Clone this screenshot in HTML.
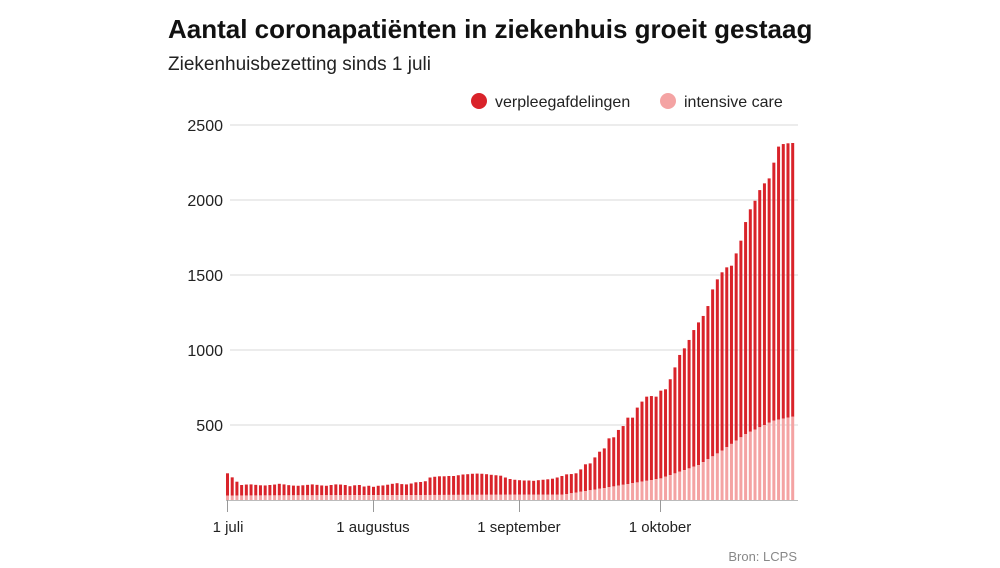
<!DOCTYPE html>
<html><head><meta charset="utf-8"><style>
html,body{margin:0;padding:0;background:#fff;}
body{width:1000px;height:563px;overflow:hidden;font-family:"Liberation Sans",sans-serif;}
</style></head><body>
<svg id="s" width="1000" height="563" xmlns="http://www.w3.org/2000/svg" font-family="Liberation Sans, sans-serif">
<text x="168" y="38" font-size="26" font-weight="bold" fill="#111">Aantal coronapatiënten in ziekenhuis groeit gestaag</text>
<text x="168" y="70" font-size="19" fill="#222">Ziekenhuisbezetting sinds 1 juli</text>
<circle cx="479" cy="101" r="8" fill="#d9232a"/>
<text x="495" y="107" font-size="16" fill="#222">verpleegafdelingen</text>
<circle cx="668" cy="101" r="8" fill="#f4a3a3"/>
<text x="684" y="107" font-size="16" fill="#222">intensive care</text>
<g id="grid" stroke="#e6e6e6" stroke-width="1.5"></g>
<g font-size="16" fill="#222" text-anchor="end">
<text x="223" y="131">2500</text><text x="223" y="206">2000</text><text x="223" y="281">1500</text><text x="223" y="356">1000</text><text x="223" y="431">500</text>
</g>
<g id="bars"></g>
<line x1="226" y1="500.5" x2="798" y2="500.5" stroke="#bbb" stroke-width="1"/>
<g stroke="#999" stroke-width="1">
<line x1="227.5" y1="500" x2="227.5" y2="512"/><line x1="373.5" y1="500" x2="373.5" y2="512"/><line x1="519.5" y1="500" x2="519.5" y2="512"/><line x1="660.5" y1="500" x2="660.5" y2="512"/>
</g>
<g font-size="15" fill="#222" text-anchor="middle">
<text x="228" y="532">1 juli</text><text x="373" y="532">1 augustus</text><text x="519" y="532">1 september</text><text x="660" y="532">1 oktober</text>
</g>
<text x="797" y="561" font-size="13" fill="#888" text-anchor="end">Bron: LCPS</text>
</svg>
<script>
var g=document.getElementById('grid'),b=document.getElementById('bars'),ns='http://www.w3.org/2000/svg';
[500,1000,1500,2000,2500].forEach(function(v){var y=500-v*0.15;var l=document.createElementNS(ns,'line');l.setAttribute('x1',230);l.setAttribute('x2',798);l.setAttribute('y1',y);l.setAttribute('y2',y);g.appendChild(l);});
var t=[178,151,122,100,103,104,101,98,97,100,103,108,104,99,96,95,98,101,104,101,97,95,100,104,103,100,92,98,100,90,95,88,95,97,102,108,112,106,104,110,118,120,125,150,155,158,158,160,160,165,170,172,175,176,175,172,168,165,162,150,140,135,132,130,130,128,132,135,138,142,150,
160,171,173,178,204,238,244,284,322,344,411,418,467,493,549,549,616,656,689,693,689,729,738,805,884,967,1011,1067,1133,1184,1227,1293,1404,1471,1518,1551,1562,1644,1729,1853,1938,1995,2066,2111,2144,2249,2356,2373,2378,2380];
var P=[[0,30],[60,35],[71,35],[80,80],[92,144],[100,233],[105,330],[110,440],[116,530],[120,555]];
function ic(d){for(var i=0;i<P.length-1;i++){if(d>=P[i][0]&&d<=P[i+1][0]){var f=(d-P[i][0])/(P[i+1][0]-P[i][0]);return P[i][1]+f*(P[i+1][1]-P[i][1]);}}return 30;}
function r(x,y,h,c){var e=document.createElementNS(ns,'rect');e.setAttribute('x',x);e.setAttribute('y',y);e.setAttribute('width',3);e.setAttribute('height',h);e.setAttribute('fill',c);b.appendChild(e);}
for(var d=0;d<t.length;d++){var x=226+d*4.71;var tot=t[d]*0.15,i=ic(d)*0.15;r(x,500-tot,tot-i,'#d9232a');r(x,500-i,i,'#f4a3a3');}
</script>
</body></html>
